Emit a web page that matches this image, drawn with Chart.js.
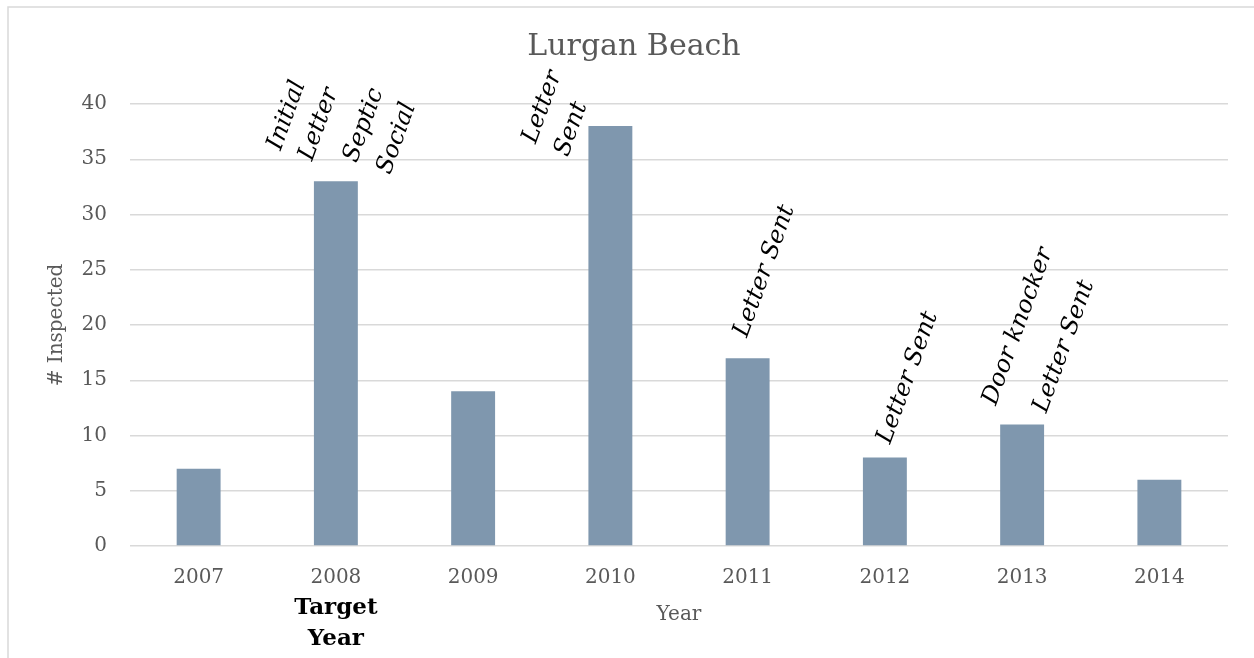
<!DOCTYPE html>
<html>
<head>
<meta charset="utf-8">
<script src="https://cdn.jsdelivr.net/npm/chart.js@4"></script>
<style>
  html, body { margin: 0; padding: 0; background: #fff; }
  #wrap { width: 1254px; height: 658px; position: relative; }
</style>
</head>
<body>
<div id="wrap"><canvas id="lurgan-graph"></canvas></div>
<script>
const years = ['2007', '2008', '2009', '2010', '2011', '2012', '2013', '2014']
const inspected = [7, 33, 14, 38, 17, 8, 11, 6]
const yTicks = [0, 5, 10, 15, 20, 25, 30, 35, 40]
const chartTitle = 'Lurgan Beach'

// notes written above the bars, one entry per line of text
const noteYears = ['2008', '2008', '2008', '2008', '2010', '2010', '2011', '2012', '2013', '2013']
const noteText = ['Initial', 'Letter', 'Septic', 'Social', 'Letter', 'Sent', 'Letter Sent', 'Letter Sent', 'Door knocker', 'Letter Sent']
const targetYear = '2008'
const targetText = ['Target', 'Year']

// where each note line sits, measured from the top centre of its bar
const noteOffsets = [[-49, -66], [-17, -57], [28, -56], [61, -43], [-68, -19], [-39, 3], [17, -87], [23, -80], [-4, -98], [42, -78]]

const ctx = document.getElementById('lurgan-graph')
const serif = "'DejaVu Serif', 'Liberation Serif', serif"

const notesPlugin = {
   id: 'notes',
   afterDatasetsDraw: (chart) => {
      const c = chart.ctx
      const x = chart.scales.x
      const y = chart.scales.y
      c.save()
      c.textAlign = 'center'
      c.textBaseline = 'middle'

      // title, sits a little right of the plot centre like the original
      c.fillStyle = '#595959'
      c.font = `30px ${serif}`
      c.fillText(chartTitle, 634, 47)

      c.fillStyle = '#000'
      c.font = `italic 24px ${serif}`
      noteText.forEach((txt, i) => {
         const idx = years.indexOf(noteYears[i])
         const px = x.getPixelForValue(idx) + noteOffsets[i][0]
         const py = y.getPixelForValue(inspected[idx]) + noteOffsets[i][1]
         c.save()
         c.translate(px, py)
         c.rotate(-70 * Math.PI / 180)
         c.fillText(txt, 0, 0)
         c.restore()
      })
      c.font = `bold 23px ${serif}`
      const tx = x.getPixelForValue(years.indexOf(targetYear))
      targetText.forEach((txt, i) => {
         c.fillText(txt, tx, chart.chartArea.bottom + 62 + i * 31)
      })
      c.restore()
   },
   afterDraw: (chart) => {
      const c = chart.ctx
      c.save()
      c.strokeStyle = '#d9d9d9'
      c.lineWidth = 1.5
      c.strokeRect(8, 7, 1300, 700)
      c.restore()
   }
}

const barGraph = new Chart(ctx, {
   type: 'bar',
   data: {
      labels: years,
      datasets: [{
         label: '# Inspected',
         data: inspected,
         backgroundColor: '#7f97ae',
         barPercentage: 0.32,
         categoryPercentage: 1
      }]
   },
   options: {
      responsive: true,
      maintainAspectRatio: false,
      animation: false,
      layout: { padding: { left: 0, right: 26, top: 104, bottom: 0 } },
      plugins: {
         legend: { display: false },
         tooltip: { enabled: false },
         title: { display: false }
      },
      scales: {
         x: {
            grid: { display: false },
            border: { display: false },
            ticks: { color: '#595959', font: { family: serif, size: 20 }, padding: 12 },
            title: {
               display: true,
               text: 'Year',
               color: '#595959',
               font: { family: serif, size: 20 },
               padding: { top: 0, bottom: 31 }
            },
            afterFit: (s) => { s.height = 112 }
         },
         y: {
            min: 0,
            max: 40,
            afterBuildTicks: (s) => { s.ticks = yTicks.map(v => ({ value: v })) },
            grid: { color: '#d9d9d9', lineWidth: 1.5, drawTicks: false },
            border: { display: false },
            ticks: { color: '#595959', font: { family: serif, size: 20 }, padding: 23 },
            title: {
               display: true,
               text: '# Inspected',
               color: '#595959',
               font: { family: serif, size: 20 },
               padding: { top: 45, bottom: 0 }
            },
            afterFit: (s) => { s.width = 130 }
         }
      }
   },
   plugins: [notesPlugin]
})
</script>
</body>
</html>
